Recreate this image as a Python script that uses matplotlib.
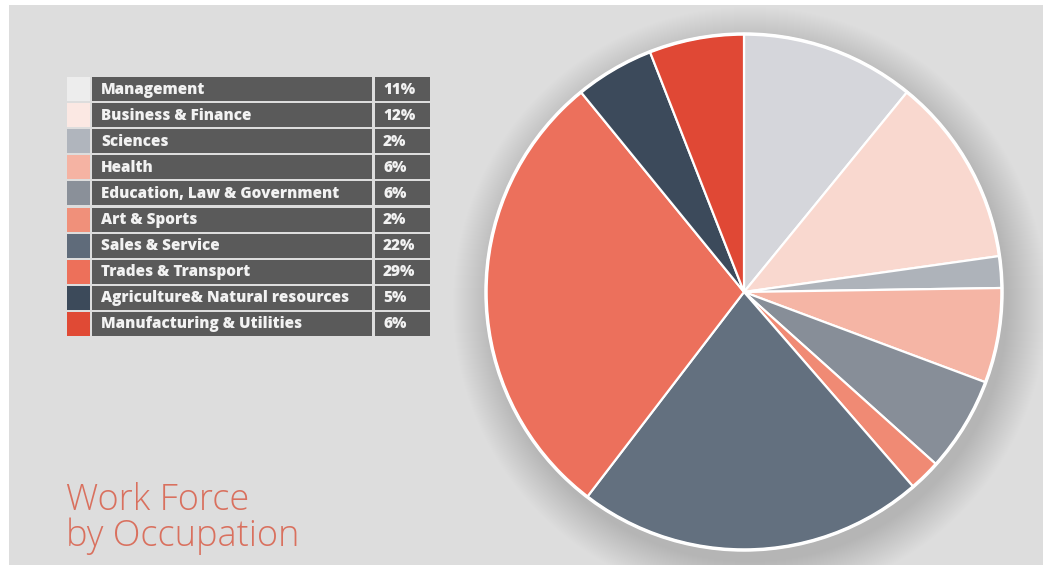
import matplotlib
matplotlib.use("Agg")
import matplotlib.pyplot as plt
from matplotlib.patches import Rectangle, Circle

categories = ["Management", "Business & Finance", "Sciences", "Health",
              "Education, Law & Government", "Art & Sports", "Sales & Service",
              "Trades & Transport", "Agriculture& Natural resources",
              "Manufacturing & Utilities"]
values = [11, 12, 2, 6, 6, 2, 22, 29, 5, 6]
pct_labels = ["11%", "12%", "2%", "6%", "6%", "2%", "22%", "29%", "5%", "6%"]
title_lines = ["Work Force", "by Occupation"]

pie_colors = ["#d5d6db", "#f9d8cf", "#aeb3ba", "#f5b5a5", "#878e98",
              "#f08a74", "#63707f", "#ec705c", "#3c4a5b", "#e04835"]
swatch_colors = ["#ededed", "#fbe8e3", "#b0b5bd", "#f5b3a3", "#8a9099",
                 "#f0907a", "#5f6b7a", "#ed705a", "#3c4a5a", "#e04a35"]

W, H = 1043, 565
fig = plt.figure(figsize=(W / 100, H / 100), dpi=100)
fig.patch.set_facecolor("white")
ax = fig.add_axes([0, 0, 1, 1])
ax.set_axis_off()

def Y(y):
    return H - y

# background
ax.add_patch(Rectangle((9, 0), W - 9, H - 5, facecolor="#dddddd", edgecolor="none", zorder=0))

# soft pie shadow
cx, cy, r = 744, 292, 258
for i in range(40):
    ax.add_patch(Circle((cx + 6, Y(cy + 12)), r + i, facecolor="black",
                        edgecolor="none", alpha=0.0048, zorder=1))

wedges, _ = ax.pie(values, colors=pie_colors, startangle=90, counterclock=False,
                   center=(cx, Y(cy)), radius=r,
                   wedgeprops=dict(edgecolor="white", linewidth=1.6))
for w in wedges:
    w.set_zorder(2)
ax.add_patch(Circle((cx, Y(cy)), r, facecolor="none", edgecolor="white",
                    linewidth=2.5, zorder=3))

ax.set_xlim(0, W)
ax.set_ylim(0, H)
ax.set_aspect("auto")
ax.set_axis_off()

# legend table
top = 77
pitch = 26.1
cell_h = 24
for i, (cat, pct) in enumerate(zip(categories, pct_labels)):
    y0 = top + i * pitch
    ax.add_patch(Rectangle((67, Y(y0 + cell_h)), 23, cell_h, facecolor=swatch_colors[i],
                           edgecolor="none", zorder=4))
    ax.add_patch(Rectangle((92, Y(y0 + cell_h)), 280, cell_h, facecolor="#5a5a5a",
                           edgecolor="none", zorder=4))
    ax.add_patch(Rectangle((375, Y(y0 + cell_h)), 55, cell_h, facecolor="#5a5a5a",
                           edgecolor="none", zorder=4))
    ax.text(101, Y(y0 + cell_h / 2 + 0.5), cat, color="#f2f2f2", fontsize=11.0,
            fontweight="heavy", family="Open Sans", va="center", ha="left", zorder=5)
    ax.text(383, Y(y0 + cell_h / 2 + 0.5), pct, color="#f2f2f2", fontsize=11.0,
            fontweight="heavy", family="Open Sans", va="center", ha="left", zorder=5)

for line, base in zip(title_lines, [510, 546]):
    ax.text(66, Y(base), line, color="#d9705e", fontsize=26, fontweight="light",
            family="Open Sans", va="baseline", ha="left", zorder=5)

fig.savefig("out.png", dpi=100, facecolor=fig.get_facecolor())
